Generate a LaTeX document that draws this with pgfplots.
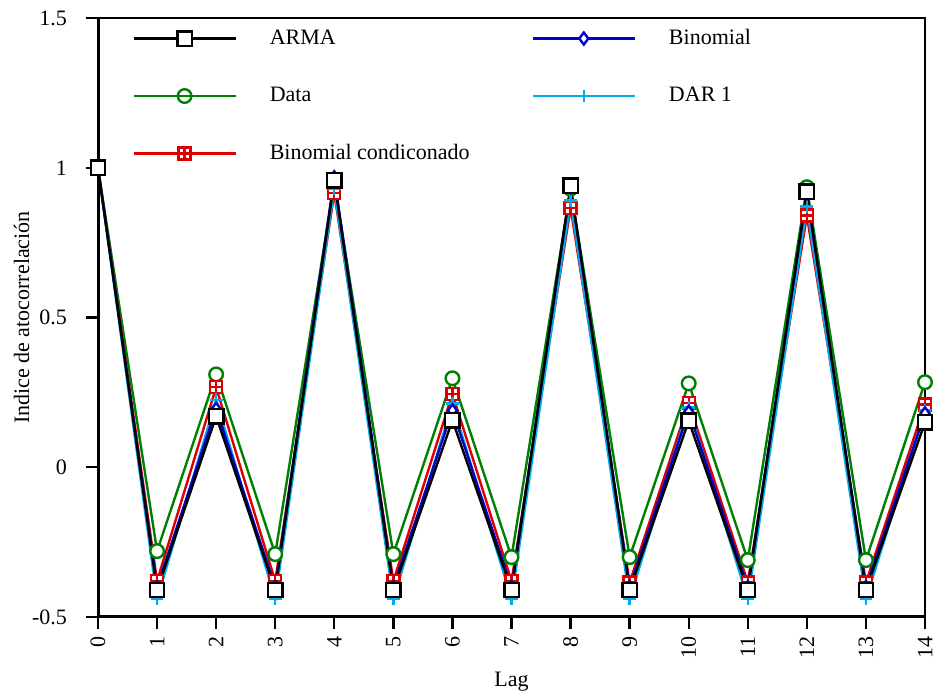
\documentclass[border=0pt]{standalone}
\usepackage{pgfplots}
\pgfplotsset{compat=1.18}
\usepackage{fontspec}
\setmainfont{Liberation Serif}
\definecolor{cgreen}{RGB}{0,128,0}
\definecolor{cred}{RGB}{220,0,0}
\definecolor{cblue}{RGB}{0,0,200}
\definecolor{ccyan}{RGB}{0,170,235}
\pgfdeclareplotmark{boxplus}{%
  \pgfpathrectangle{\pgfpoint{-\pgfplotmarksize}{-\pgfplotmarksize}}{\pgfpoint{2\pgfplotmarksize}{2\pgfplotmarksize}}%
  \pgfpathmoveto{\pgfpoint{-\pgfplotmarksize}{0pt}}\pgfpathlineto{\pgfpoint{\pgfplotmarksize}{0pt}}%
  \pgfpathmoveto{\pgfpoint{0pt}{-\pgfplotmarksize}}\pgfpathlineto{\pgfpoint{0pt}{\pgfplotmarksize}}%
  \pgfusepathqfillstroke}
\pgfplotstableread{
x arma binom data dar cond
0 1.0 1.0 1.0 1.0 1.0
1 -0.41 -0.40 -0.28 -0.44 -0.38
2 0.17 0.195 0.31 0.225 0.267
3 -0.41 -0.40 -0.29 -0.44 -0.38
4 0.958 0.968 0.95 0.93 0.915
5 -0.41 -0.40 -0.29 -0.44 -0.38
6 0.157 0.19 0.297 0.213 0.245
7 -0.41 -0.40 -0.30 -0.44 -0.38
8 0.94 0.935 0.93 0.89 0.866
9 -0.41 -0.40 -0.30 -0.44 -0.385
10 0.155 0.185 0.28 0.20 0.215
11 -0.41 -0.40 -0.31 -0.44 -0.385
12 0.92 0.915 0.935 0.87 0.84
13 -0.41 -0.40 -0.31 -0.44 -0.385
14 0.15 0.18 0.284 0.19 0.21
}\datatab
\begin{document}
\begin{tikzpicture}
\begin{axis}[
  scale only axis, width=413.5pt, height=299.5pt,
  xmin=0, xmax=14, ymin=-0.5, ymax=1.5,
  xtick={0,...,14}, ytick={-0.5,0,0.5,1,1.5},
  yticklabels={-0.5,0,0.5,1,1.5},
  xtick pos=left, ytick pos=left, tick align=outside,
  major tick length=6pt,
  tick style={line width=1.2pt, black},
  x tick label style={rotate=90, anchor=east},
  y tick label style={xshift=-6pt},
  /pgf/number format/assume math mode=true,
  tick label style={font=\fontsize{11}{13}\selectfont},
  label style={font=\fontsize{11}{13}\selectfont},
  xlabel={Lag}, ylabel={Indice de atocorrelación},
  ylabel style={yshift=-5.5pt},
  axis line style={line width=0.75pt},
  every axis plot/.append style={line width=1.2pt},
  legend columns=2,
  legend style={draw=none, fill=none, at={(0,1)}, anchor=north west,
    xshift=14pt, yshift=-1.5pt,
    font=\fontsize{11}{13}\selectfont, row sep=15.8pt,
    /tikz/every odd column/.append style={column sep=14.5pt},
    /tikz/every even column/.append style={column sep=29pt}},
  legend cell align=left,
  legend image code/.code={\draw[mark repeat=2,mark phase=2,#1] plot coordinates {(0pt,0pt)(25.5pt,0pt)(51pt,0pt)};},
]
\addlegendimage{black, mark=square*, mark size=3.6pt, mark options={fill=white, solid}}
\addlegendentry{ARMA}
\addlegendimage{cblue, mark=diamond*, mark size=3pt, mark options={fill=white, solid}}
\addlegendentry{Binomial}
\addlegendimage{cgreen, mark=o, mark size=3.4pt, mark options={fill=white, solid}}
\addlegendentry{Data}
\addlegendimage{ccyan, mark=+, mark size=3.2pt}
\addlegendentry{DAR 1}
\addlegendimage{cred, mark=boxplus, mark size=3pt, mark options={fill=white, solid}}
\addlegendentry{Binomial condiconado}
\addplot[cgreen, mark=*, mark size=3.4pt, mark options={fill=white}, forget plot] table[x=x,y=data] {\datatab};
\addplot[cred, mark=boxplus, mark size=3pt, mark options={fill=white}, forget plot] table[x=x,y=cond] {\datatab};
\addplot[ccyan, mark=+, mark size=3.2pt, forget plot] table[x=x,y=dar] {\datatab};
\addplot[cblue, mark=diamond*, mark size=3pt, mark options={fill=white}, forget plot] table[x=x,y=binom] {\datatab};
\addplot[black, mark=square*, mark size=3.6pt, mark options={fill=white}, forget plot] table[x=x,y=arma] {\datatab};
\draw[line width=1.6pt, black] (rel axis cs:0,1) -- (rel axis cs:0,0) -- (rel axis cs:1,0);
\coordinate (tl) at (rel axis cs:0,1);
\coordinate (br) at (rel axis cs:1,0);
\end{axis}
\pgfresetboundingbox
\path[use as bounding box] ([xshift=-49pt, yshift=9pt]tl) rectangle ([xshift=5.5pt, yshift=-39.5pt]br);
\end{tikzpicture}
\end{document}
